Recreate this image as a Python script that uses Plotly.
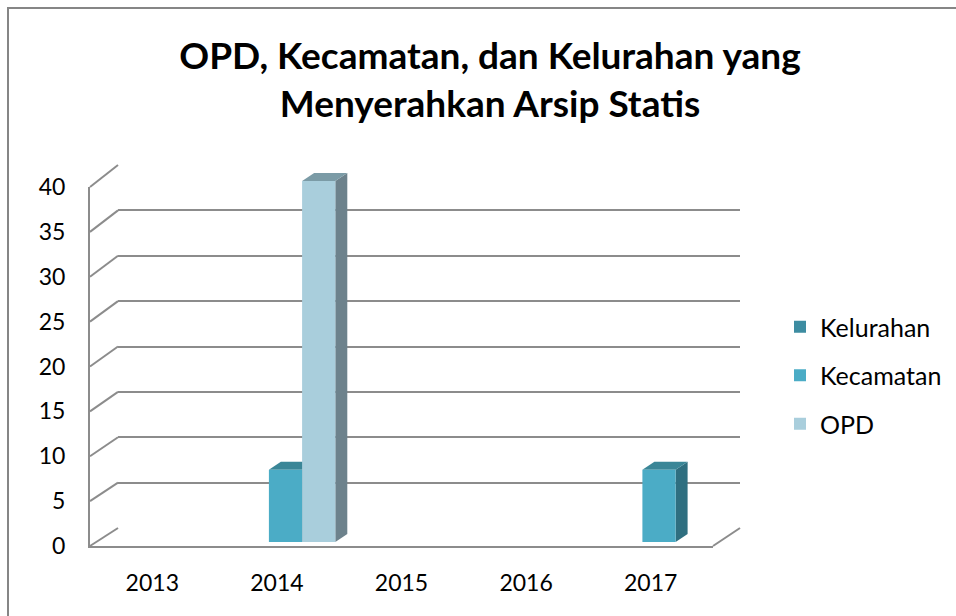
import plotly.graph_objects as go

# ---------------- data ----------------
years = ["2013", "2014", "2015", "2016", "2017"]
series_names = ["Kelurahan", "Kecamatan", "OPD"]
kelurahan = [0, 0, 0, 0, 0]
kecamatan = [0, 8, 0, 0, 8]
opd = [0, 40, 0, 0, 0]
y_ticks = [0, 5, 10, 15, 20, 25, 30, 35, 40]

# ---------------- style ----------------
front_colors = ["#3D8CA1", "#4BACC6", "#A9CEDC"]
top_colors = ["#33798B", "#3A8697", "#7B9BA6"]
side_colors = ["#2A6675", "#2F6F80", "#6D828C"]
GRID = "#8C8C8C"
FONT = "Lato"

W, H = 956, 616
def px(x):
    return x / W
def py(y):
    return 1 - y / H

# pixel geometry of the pseudo-3D box
FRONT_L, FRONT_R, FRONT_B, FRONT_T = 90, 713, 546, 187
BACK_L, BACK_R, BACK_B, BACK_T = 118, 740, 528, 165
BAR_B, BAR_PX_PER_UNIT = 542, 9.025
BAR_L, BAR_R = 98.75, 721.25
DEPTH_DX, DEPTH_DY = 12, 8  # bar depth in pixels
YMAX = 40
BAR_YMAX = 42

fig = go.Figure()

# empty helper traces so the back-wall and front-axis subplots are drawn
fig.add_trace(go.Scatter(x=[None], y=[None], xaxis="x", yaxis="y",
                         showlegend=False, hoverinfo="skip"))
fig.add_trace(go.Scatter(x=[None], y=[None], xaxis="x2", yaxis="y2",
                         showlegend=False, hoverinfo="skip"))

values = [kelurahan, kecamatan, opd]
for name, vals, col in zip(series_names, values, front_colors):
    fig.add_trace(go.Bar(
        name=name, x=list(range(len(years))), y=vals,
        marker=dict(color=col, line=dict(width=0)),
        xaxis="x3", yaxis="y3", legendgroup=name,
    ))

# 3D faces of bars (computed from data values in bar-axis coordinates)
n = len(series_names)
bargap = 0.2
w = (1 - bargap) / n
dxu = DEPTH_DX / ((BAR_R - BAR_L) / len(years))
dyu = DEPTH_DY / BAR_PX_PER_UNIT
shapes = []
for i, vals in enumerate(values):
    for j, v in enumerate(vals):
        if v <= 0:
            continue
        left = j - (1 - bargap) / 2 + i * w
        right = left + w
        shapes.append(dict(
            type="path", xref="x3", yref="y3", layer="below",
            path=f"M{right},0 L{right},{v} L{right+dxu},{v+dyu} L{right+dxu},{dyu} Z",
            fillcolor=side_colors[i], line=dict(width=0)))
        shapes.append(dict(
            type="path", xref="x3", yref="y3", layer="below",
            path=f"M{left},{v} L{right},{v} L{right+dxu},{v+dyu} L{left+dxu},{v+dyu} Z",
            fillcolor=top_colors[i], line=dict(width=0)))

# connectors from front axis to back wall
def yfront(v):
    return FRONT_B - (FRONT_B - FRONT_T) * v / YMAX
def yback(v):
    return BACK_B - (BACK_B - BACK_T) * v / YMAX
for v in y_ticks:
    shapes.append(dict(type="line", xref="paper", yref="paper",
                       x0=px(FRONT_L), y0=py(yfront(v)), x1=px(BACK_L), y1=py(yback(v)),
                       line=dict(color=GRID, width=2)))
# right edge of floor
shapes.append(dict(type="line", xref="paper", yref="paper",
                   x0=px(FRONT_R), y0=py(FRONT_B), x1=px(BACK_R), y1=py(BACK_B),
                   line=dict(color=GRID, width=2)))
# outer chart border
shapes.append(dict(type="rect", xref="paper", yref="paper",
                   x0=px(8), y0=py(630), x1=px(970), y1=py(8),
                   line=dict(color="#868686", width=2), fillcolor="rgba(0,0,0,0)"))

fig.update_layout(
    width=W, height=H,
    margin=dict(l=0, r=0, t=0, b=0, pad=0, autoexpand=False),
    paper_bgcolor="white", plot_bgcolor="rgba(0,0,0,0)",
    font=dict(family=FONT, size=23, color="black"),
    title=dict(text="<b>OPD, Kecamatan, dan Kelurahan yang<br>Menyerahkan Arsip Statis</b>",
               x=px(490), xanchor="center", y=py(69), yanchor="top",
               font=dict(family=FONT, size=37, color="black")),
    barmode="group", bargap=bargap, bargroupgap=0,
    showlegend=True,
    legend=dict(x=px(780), y=py(304), xanchor="left", yanchor="top",
                traceorder="grouped", tracegroupgap=13,
                font=dict(family=FONT, size=25), bgcolor="rgba(0,0,0,0)"),
    # back wall (gridlines)
    xaxis=dict(domain=[px(BACK_L), px(BACK_R)], range=[-0.5, 4.5], visible=False,
               anchor="y", fixedrange=True),
    yaxis=dict(domain=[py(BACK_B), py(BACK_T)], range=[0, YMAX], dtick=5,
               showgrid=True, gridcolor=GRID, gridwidth=2, zeroline=False,
               showticklabels=False, showline=False, anchor="x", fixedrange=True),
    # front axes (labels + edges)
    xaxis2=dict(domain=[px(FRONT_L), px(FRONT_R)], range=[-0.5, 4.5],
                tickmode="array", tickvals=list(range(len(years))), ticktext=years,
                showline=True, linecolor=GRID, linewidth=2, showgrid=False,
                zeroline=False, ticks="", ticklabelstandoff=15, anchor="y2",
                automargin=False, fixedrange=True),
    yaxis2=dict(domain=[py(FRONT_B), py(FRONT_T)], range=[0, YMAX],
                tickmode="array", tickvals=y_ticks,
                showline=True, linecolor=GRID, linewidth=2, showgrid=False,
                zeroline=False, ticks="", ticklabelstandoff=18, anchor="x2",
                automargin=False, fixedrange=True),
    # bars
    xaxis3=dict(domain=[px(BAR_L), px(BAR_R)], range=[-0.5, 4.5], visible=False,
                anchor="y3", fixedrange=True),
    yaxis3=dict(domain=[py(BAR_B), py(BAR_B - BAR_YMAX * BAR_PX_PER_UNIT)],
                range=[0, BAR_YMAX], visible=False, anchor="x3", fixedrange=True),
    shapes=shapes,
)

fig.write_html("out.html", config={"displayModeBar": False},
               post_script="document.body.style.margin='0';")
